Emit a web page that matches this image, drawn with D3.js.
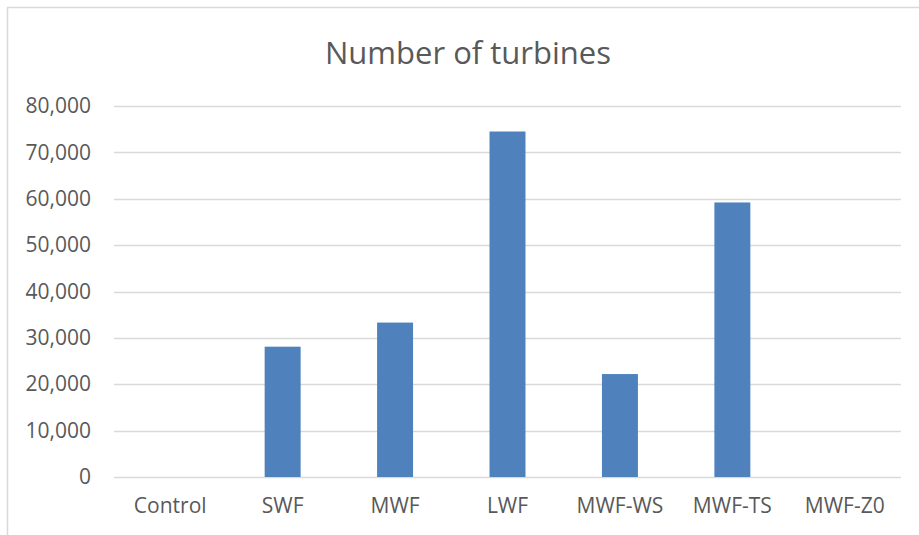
<!DOCTYPE html>
<html>
<head>
<meta charset="utf-8">
<title>Number of turbines</title>
<script src="https://cdn.jsdelivr.net/npm/d3@7"></script>
<style>
  body { margin: 0; background: #fff; font-family: "Open Sans", sans-serif; }
  svg { display: block; }
  .axis text { fill: #595959; font-size: 21px; font-family: "Open Sans", sans-serif; }
  .axis path, .axis line { display: none; }
</style>
</head>
<body>
<script>
// data
var categories = ["Control", "SWF", "MWF", "LWF", "MWF-WS", "MWF-TS", "MWF-Z0"];
var turbines = [0, 28100, 33300, 74500, 22200, 59200, 0];
var yTicks = [0, 10000, 20000, 30000, 40000, 50000, 60000, 70000, 80000];
var chartTitle = "Number of turbines";

var width = 919, height = 535;
var margin = {left: 114, right: 18, top: 106, bottom: 58};

var svg = d3.select("body").append("svg")
  .attr("width", width).attr("height", height);

// chart frame (only left & top visible in the crop)
svg.append("rect")
  .attr("x", 7.5).attr("y", 7.5)
  .attr("width", width + 20).attr("height", height + 20)
  .attr("fill", "#fff")
  .attr("stroke", "#d9d9d9").attr("stroke-width", 1.5);

var x = d3.scaleBand()
  .domain(categories)
  .range([margin.left, width - margin.right])
  .paddingInner(0.68).paddingOuter(0.34);

var y = d3.scaleLinear()
  .domain([0, 80000])
  .range([height - margin.bottom, margin.top]);

// gridlines
svg.append("g").selectAll("line")
  .data(yTicks)
  .enter().append("line")
  .attr("x1", margin.left).attr("x2", width - margin.right)
  .attr("y1", function(d){ return Math.round(y(d)) + 0.5; })
  .attr("y2", function(d){ return Math.round(y(d)) + 0.5; })
  .attr("stroke", "#d9d9d9").attr("stroke-width", 1.5);

// bars
svg.append("g").selectAll("rect")
  .data(turbines)
  .enter().append("rect")
  .attr("x", function(d, i){ return x(categories[i]); })
  .attr("width", x.bandwidth())
  .attr("y", function(d){ return y(d); })
  .attr("height", function(d){ return y(0) - y(d); })
  .attr("fill", "#4f81bd");

// y axis labels
svg.append("g")
  .attr("class", "axis")
  .attr("transform", "translate(" + (margin.left - 23) + ",0)")
  .call(d3.axisLeft(y).tickValues(yTicks).tickSize(0).tickPadding(0)
    .tickFormat(d3.format(",")));

// x axis labels
svg.append("g")
  .attr("class", "axis")
  .attr("transform", "translate(0," + (height - margin.bottom) + ")")
  .call(d3.axisBottom(x).tickSize(0).tickPadding(21));

// title
svg.append("text")
  .attr("x", 468).attr("y", 64)
  .attr("text-anchor", "middle")
  .attr("fill", "#595959")
  .style("font-size", "31px")
  .text(chartTitle);
</script>
</body>
</html>
